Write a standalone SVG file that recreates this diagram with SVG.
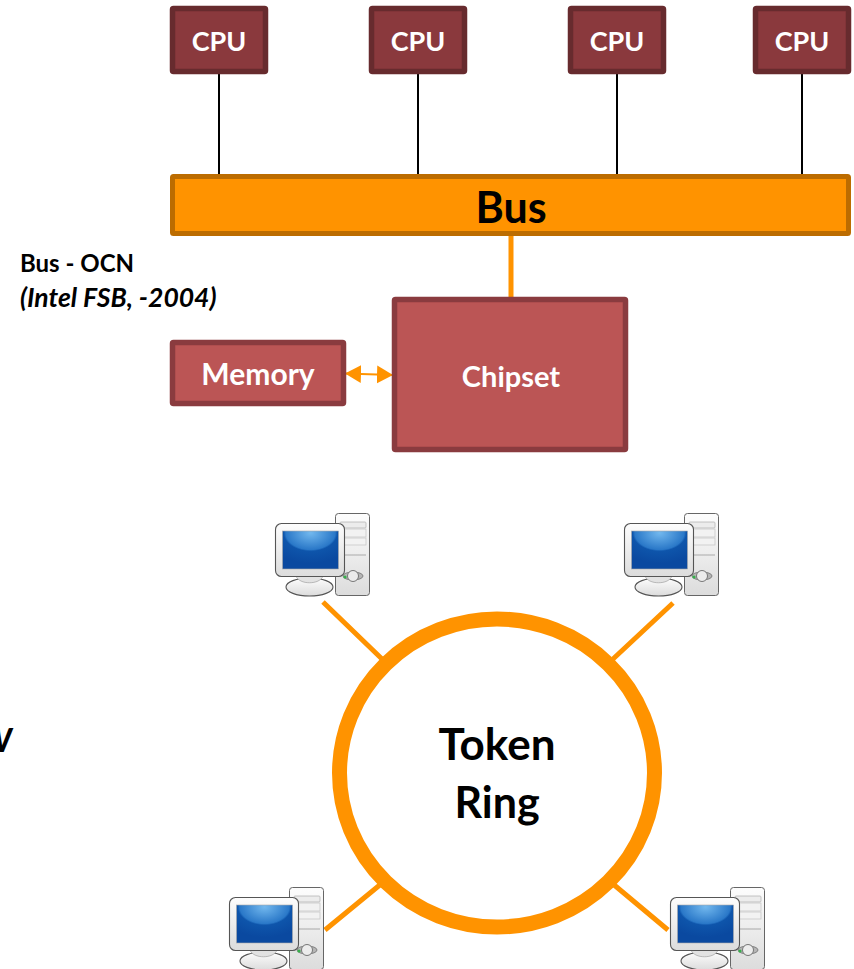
<svg xmlns="http://www.w3.org/2000/svg" xmlns:xlink="http://www.w3.org/1999/xlink" width="854" height="969" viewBox="0 0 854 969">
<style>
text{font-family:Lato,"Open Sans","Liberation Sans",sans-serif;font-weight:700}
.w{fill:#fff;text-anchor:middle}
.cpu{fill:#8a393d;stroke:#672b2e;stroke-width:5.5}
.box{fill:#bb5555;stroke:#8a3b3f;stroke-width:5.5}
.bk{fill:#000}
.wire{stroke:#000;stroke-width:2;fill:none}
.or{stroke:#ff9300;fill:none}
</style>
<defs>
<radialGradient id="scr" cx="0.5" cy="0.05" r="0.8">
<stop offset="0" stop-color="#72b8ee"/><stop offset="0.55" stop-color="#2a78c8"/><stop offset="0.6" stop-color="#0e55ab"/><stop offset="1" stop-color="#0a49a0"/>
</radialGradient>
<linearGradient id="grey" x1="0" y1="0" x2="0" y2="1"><stop offset="0" stop-color="#fdfdfd"/><stop offset="1" stop-color="#dcdcdc"/></linearGradient>
<marker id="ah" markerUnits="userSpaceOnUse" markerWidth="17" markerHeight="20" refX="16" refY="10" orient="auto-start-reverse"><path d="M0 1L16 10L0 19Z" fill="#ff9300"/></marker>
<g id="pc">
<rect x="60.500" y="0.500" width="34" height="82" rx="3" fill="url(#grey)" stroke="#666" stroke-width="1"/>
<rect x="65" y="9" width="26" height="6" rx="1" fill="#ececec" stroke="#b5b5b5" stroke-width="0.800"/>
<rect x="65" y="16" width="26" height="8" fill="#f2f2f2" stroke="#c8c8c8" stroke-width="0.800"/>
<rect x="65" y="25" width="26" height="7" fill="#f2f2f2" stroke="#c8c8c8" stroke-width="0.800"/>
<path d="M65 42H91" stroke="#b5b5b5" stroke-width="1.200"/>
<ellipse cx="78" cy="63" rx="10" ry="4" fill="#b5b5b5" stroke="#808080"/>
<circle cx="78" cy="63" r="5.500" fill="#ececec" stroke="#777"/>
<circle cx="70" cy="64" r="1.600" fill="#35b04a"/>
<ellipse cx="34.500" cy="74" rx="23.500" ry="9" fill="url(#grey)" stroke="#555" stroke-width="1.100"/>
<path d="M21 63C24 72 45 72 48 63Z" fill="#e2e2e2" stroke="#aaa" stroke-width="0.800"/>
<rect x="0.500" y="10.500" width="69" height="53" rx="6" fill="url(#grey)" stroke="#555" stroke-width="1.100"/>
<rect x="7.500" y="18" width="56" height="38" fill="url(#scr)" stroke="#aaa" stroke-width="0.600"/>
</g>
</defs>
<g id="connectors">
<path class="wire" d="M219 72V176M418 72V176M617 72V176M802 72V176"/>
<path class="or" stroke-width="2" d="M345 373.500L393 375" marker-start="url(#ah)" marker-end="url(#ah)"/>
<path class="or" stroke-width="5" d="M511 234V300"/>
<path class="or" stroke-width="5" d="M323 602L382 659M673 603L613 659M325 930L381 884M668 930L613 884"/>
</g>
<g id="cpu1"><rect class="cpu" x="172.500" y="8.500" width="93" height="63" rx="1"/><text class="w" x="219" y="51" font-size="27">CPU</text></g>
<g id="cpu2"><rect class="cpu" x="371.500" y="8.500" width="93" height="63" rx="1"/><text class="w" x="418" y="51" font-size="27">CPU</text></g>
<g id="cpu3"><rect class="cpu" x="570.500" y="8.500" width="93" height="63" rx="1"/><text class="w" x="617" y="51" font-size="27">CPU</text></g>
<g id="cpu4"><rect class="cpu" x="755.500" y="8.500" width="93" height="63" rx="1"/><text class="w" x="802" y="51" font-size="27">CPU</text></g>
<g id="bus"><rect x="172.500" y="176.500" width="676" height="57" rx="1" fill="#ff9300" stroke="#bc6c00" stroke-width="5"/><text x="511" y="222.500" font-size="43" text-anchor="middle" class="bk">Bus</text></g>
<g id="bus-label"><text class="bk" x="20" y="272" font-size="24">Bus - OCN</text><text class="bk" x="20" y="307" font-size="26.500" font-style="italic">(Intel FSB, -2004)</text></g>
<g id="memory"><rect class="box" x="172.500" y="342.500" width="171" height="61" rx="1"/><text class="w" x="258" y="385" font-size="30">Memory</text></g>
<g id="chipset"><rect class="box" x="394.500" y="299.500" width="231" height="150" rx="1"/><text class="w" x="511" y="387" font-size="29">Chipset</text></g>
<g id="pc1"><use xlink:href="#pc" href="#pc" x="275" y="513"/></g>
<g id="pc2"><use xlink:href="#pc" href="#pc" x="624" y="513"/></g>
<g id="pc3"><use xlink:href="#pc" href="#pc" x="229" y="887"/></g>
<g id="pc4"><use xlink:href="#pc" href="#pc" x="670" y="887"/></g>
<g id="token-ring"><ellipse class="or" cx="497" cy="773" rx="157.500" ry="154" stroke-width="15" fill="#fff"/>
<text x="497" y="760" font-size="44" text-anchor="middle" class="bk">Token</text><text x="497" y="818" font-size="43" text-anchor="middle" class="bk">Ring</text></g>
<text class="bk" x="-20" y="752" font-size="33" font-style="italic">W</text>
</svg>
